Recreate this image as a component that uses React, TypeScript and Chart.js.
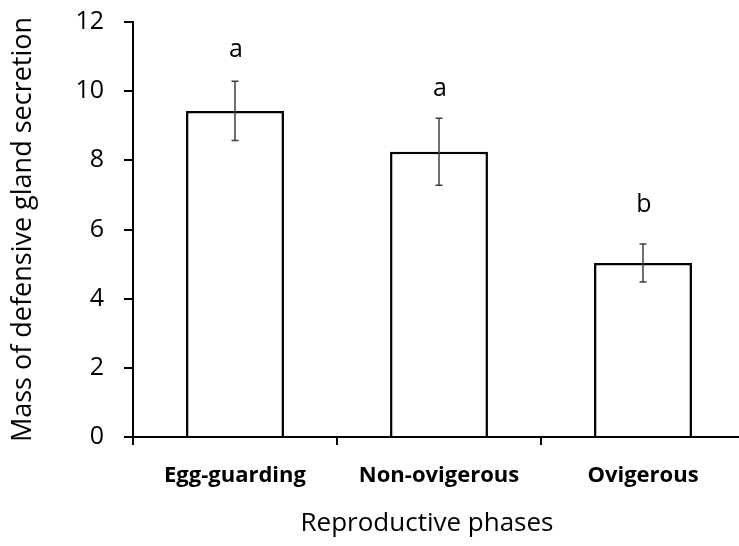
import React, { useEffect, useRef } from 'react';
import { Chart, registerables } from 'chart.js';

Chart.register(...registerables);

const categories = ['Egg-guarding', 'Non-ovigerous', 'Ovigerous'];
const means = [9.43, 8.25, 5.03];
const errors = [0.86, 0.97, 0.55];
const letters = ['a', 'a', 'b'];
const letterBaselines = [11.0, 9.86, 6.51];
const yTickValues = [0, 2, 4, 6, 8, 10, 12];
const xTitle = 'Reproductive phases';
const yTitle = 'Mass of defensive gland secretion';

const FONT = '"Open Sans", sans-serif';

const annotPlugin = {
  id: 'errLetters',
  afterDatasetsDraw(chart: any) {
    const ctx = chart.ctx;
    const meta = chart.getDatasetMeta(0);
    const y = chart.scales.y;
    ctx.save();
    meta.data.forEach((bar: any, i: number) => {
      const x = bar.x;
      const top = y.getPixelForValue(means[i] + errors[i]);
      const bot = y.getPixelForValue(means[i] - errors[i]);
      ctx.strokeStyle = '#404040';
      ctx.lineWidth = 1.5;
      ctx.beginPath();
      ctx.moveTo(x, top);
      ctx.lineTo(x, bot);
      ctx.moveTo(x - 3.5, top);
      ctx.lineTo(x + 3.5, top);
      ctx.moveTo(x - 3.5, bot);
      ctx.lineTo(x + 3.5, bot);
      ctx.stroke();
      ctx.fillStyle = '#000';
      ctx.font = `25px ${FONT}`;
      ctx.textAlign = 'center';
      ctx.textBaseline = 'alphabetic';
      ctx.fillText(letters[i], x + 1, y.getPixelForValue(letterBaselines[i]));
    });
    // x-axis title
    ctx.font = `26px ${FONT}`;
    ctx.fillStyle = '#000';
    ctx.textAlign = 'center';
    ctx.textBaseline = 'alphabetic';
    ctx.fillText(xTitle, 427, 531);
    ctx.restore();
  },
};

export default function App() {
  const ref = useRef<HTMLCanvasElement | null>(null);
  useEffect(() => {
    if (!ref.current) return;
    const chart = new Chart(ref.current, {
      type: 'bar',
      data: {
        labels: categories,
        datasets: [
          {
            data: means,
            backgroundColor: '#ffffff',
            borderColor: '#000000',
            borderWidth: 2.5,
            borderSkipped: 'bottom',
            categoryPercentage: 1,
            barPercentage: 0.48,
          },
        ],
      },
      options: {
        animation: false,
        responsive: false,
        maintainAspectRatio: false,
        layout: { padding: { top: 22, right: 0, bottom: 0, left: 0 } },
        plugins: { legend: { display: false }, tooltip: { enabled: false } },
        scales: {
          x: {
            offset: true,
            border: { display: true, color: '#000', width: 2 },
            grid: {
              display: true,
              offset: true,
              drawOnChartArea: false,
              drawTicks: true,
              tickLength: 8,
              color: '#000',
              lineWidth: 2,
            },
            ticks: {
              color: '#000',
              padding: 18,
              font: { family: FONT, size: 22, weight: 'bold' },
            },
            afterFit: (s: any) => {
              s.height = 109;
              s.paddingLeft = 0;
              s.paddingRight = 0;
            },
          },
          y: {
            min: 0,
            max: 12,
            border: { display: true, color: '#000', width: 2 },
            grid: {
              display: true,
              drawOnChartArea: false,
              drawTicks: true,
              tickLength: 9,
              color: '#000',
              lineWidth: 2,
            },
            afterBuildTicks: (s: any) => {
              s.ticks = yTickValues.map((v) => ({ value: v }));
            },
            ticks: {
              color: '#000',
              padding: 20,
              font: { family: FONT, size: 25 },
            },
            title: {
              display: true,
              text: yTitle,
              color: '#000',
              font: { family: FONT, size: 27 },
              padding: { top: 7, bottom: 0 },
            },
            afterFit: (s: any) => {
              s.width = 133;
              s.paddingTop = 0;
              s.paddingBottom = 0;
            },
          },
        },
      },
      plugins: [annotPlugin],
    });
    return () => chart.destroy();
  }, []);
  return (
    <div
      style={{
        position: 'absolute',
        left: 0,
        top: 0,
        width: 739,
        height: 546,
        overflow: 'hidden',
        background: '#fff',
      }}
    >
      <canvas ref={ref} width={745} height={546} style={{ display: 'block' }} />
    </div>
  );
}
